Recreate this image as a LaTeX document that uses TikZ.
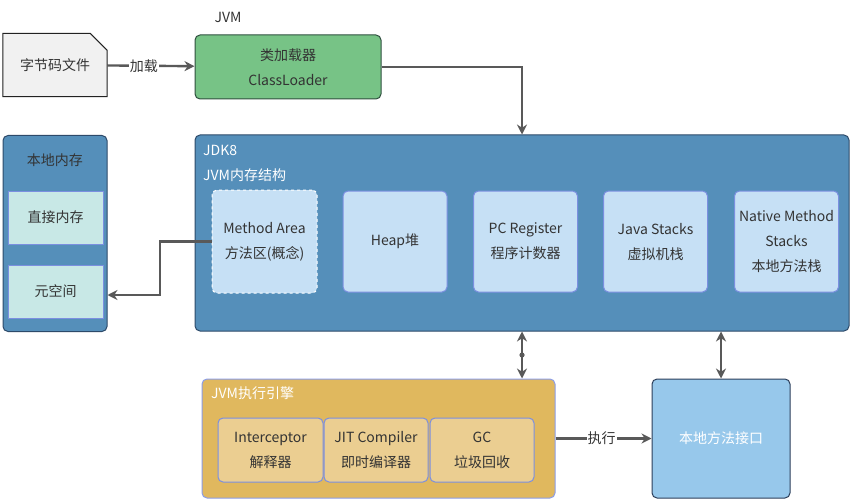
\documentclass[tikz,border=0pt]{standalone}
\usepackage{fontspec}
\setmainfont{Noto Sans CJK SC}
\usetikzlibrary{arrows.meta,backgrounds}
\definecolor{txt}{HTML}{333333}
\definecolor{linec}{HTML}{595959}
\definecolor{docfill}{HTML}{F1F1F1}
\definecolor{docb}{HTML}{222222}
\definecolor{clfill}{HTML}{77C386}
\definecolor{clb}{HTML}{2F4F3F}
\definecolor{jdkfill}{HTML}{558FBA}
\definecolor{jdkb}{HTML}{2D4A6A}
\definecolor{inner}{HTML}{C6E0F5}
\definecolor{innerb}{HTML}{7B8FE0}
\definecolor{teal}{HTML}{C8E8E6}
\definecolor{engfill}{HTML}{E0B85E}
\definecolor{engb}{HTML}{8B9DE8}
\definecolor{engin}{HTML}{EBCE91}
\definecolor{natfill}{HTML}{97C8EB}
\definecolor{natb}{HTML}{2C3E5A}
\tikzset{
  txtfont/.style={font=\fontsize{14}{25}\selectfont},
  box/.style={rounded corners=5pt, draw, line width=1pt, align=center, txtfont, inner sep=0pt, text=txt},
  conn/.style={draw=linec, line width=2.4pt, -{Stealth[length=10pt,width=10pt]}},
  dconn/.style={draw=linec, line width=2.4pt, {Stealth[length=10pt,width=10pt]}-{Stealth[length=10pt,width=10pt]}},
  lbl/.style={txtfont, inner sep=0pt},
  lblw/.style={txtfont, inner sep=0pt, text=white, anchor=west},
}
\begin{document}
\begin{tikzpicture}[x=1pt,y=-1pt]
\useasboundingbox (0,0) rectangle (854,500);

% top
\node[lbl, text=txt] (jvm) at (228,17) {JVM};
\node[minimum width=104pt, minimum height=63pt, inner sep=0pt, txtfont, text=txt] (doc) at (55,65) {字节码文件};
\begin{scope}[on background layer]
\draw[fill=docfill, draw=docb, line width=1pt] (doc.south west) -- (doc.north west) -- ([xshift=-17pt]doc.north east) -- ([yshift=-17pt]doc.north east) -- (doc.south east) -- cycle;
\end{scope}
\node[box, fill=clfill, draw=clb, minimum width=186pt, minimum height=64pt] (cl) at (288,67) {类加载器\\ClassLoader};

% JDK8
\node[box, fill=jdkfill, draw=jdkb, minimum width=654pt, minimum height=196pt] (jdk) at (522,233) {};
\node[lblw] (jdkl) at (203,150) {JDK8};
\node[lblw] (jdkl2) at (203,175) {JVM内存结构};
\node[box, fill=inner, draw=white, dashed, minimum width=105pt, minimum height=103pt] (ma) at (264.5,241.5) {Method Area\\方法区(概念)};
\node[box, fill=inner, draw=innerb, minimum width=104pt, minimum height=101pt] (heap) at (395,241.5) {Heap堆};
\node[box, fill=inner, draw=innerb, minimum width=104pt, minimum height=101pt] (pc) at (525.5,241.5) {PC Register\\程序计数器};
\node[box, fill=inner, draw=innerb, minimum width=104pt, minimum height=101pt] (js) at (655.5,241.5) {Java Stacks\\虚拟机栈};
\node[box, fill=inner, draw=innerb, minimum width=104pt, minimum height=101pt] (nms) at (786.5,241.5) {Native Method\\Stacks\\本地方法栈};

% local memory
\node[box, fill=jdkfill, draw=jdkb, minimum width=104pt, minimum height=196pt] (lm) at (55,233.5) {};
\node[lbl, text=txt] (lml) at (55,160) {本地内存};
\node[box, rounded corners=0pt, fill=teal, draw=innerb, minimum width=95pt, minimum height=53pt] (dm) at (55.5,217.5) {直接内存};
\node[box, rounded corners=0pt, fill=teal, draw=innerb, minimum width=95pt, minimum height=53pt] (meta) at (55.5,291.5) {元空间};

% execution engine
\node[box, fill=engfill, draw=engb, minimum width=353pt, minimum height=119pt] (eng) at (378.5,438.5) {};
\node[lblw] (engl) at (211,393) {JVM执行引擎};
\node[box, fill=engin, draw=innerb, minimum width=105pt, minimum height=64pt] (interp) at (270.5,450) {Interceptor\\解释器};
\node[box, fill=engin, draw=innerb, minimum width=104pt, minimum height=64pt] (jit) at (376,450) {JIT Compiler\\即时编译器};
\node[box, fill=engin, draw=innerb, minimum width=104pt, minimum height=64pt] (gc) at (482,450) {GC\\垃圾回收};

% native interface
\node[box, fill=natfill, draw=natb, minimum width=138pt, minimum height=119pt, text=white] (nat) at (721,438.5) {本地方法接口};

% connectors
\draw[conn] (doc) -- node[pos=0.42, fill=white, inner sep=1pt, txtfont, text=txt] {加载} (cl);
\draw[conn] (cl.east) -| (jdk.north);
\coordinate (c1) at (160,295);
\draw[conn] (ma.west) -| (c1) -- (c1 -| lm.east);
\draw[dconn] (jdk.south) -- (jdk.south |- eng.north);
\fill[linec] (522,355) circle (2.6pt);
\draw[dconn] (nat.north) -- (nat.north |- jdk.south);
\draw[conn] (eng.east) -- node[pos=0.48, fill=white, inner sep=1pt, txtfont, text=txt] {执行} (nat.west);
\end{tikzpicture}
\end{document}
